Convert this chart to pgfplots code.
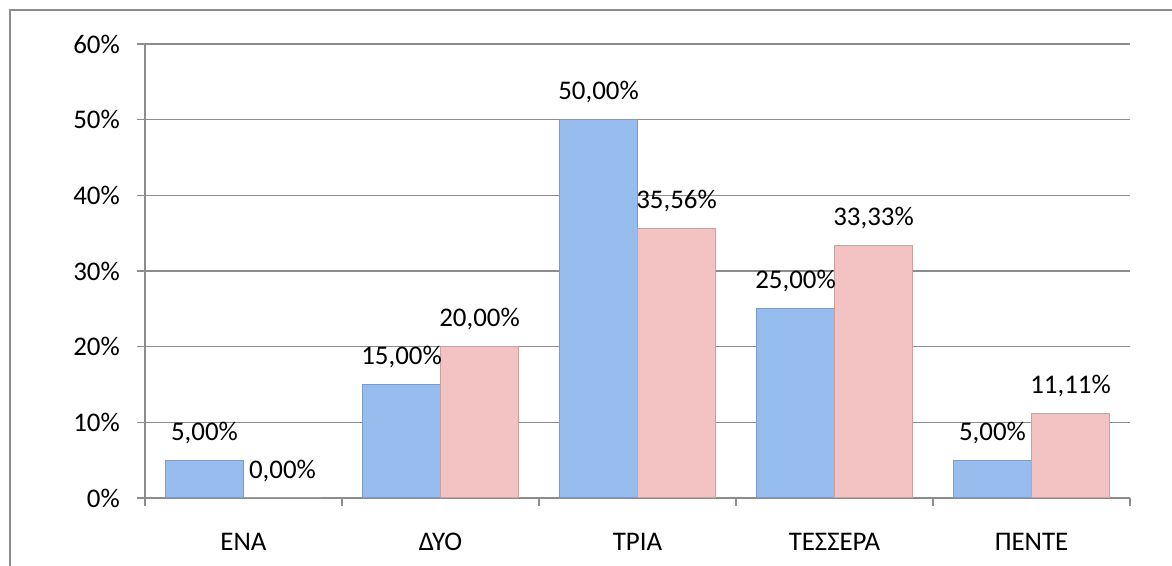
\documentclass[border=0pt]{standalone}
\usepackage{fontspec}
\setmainfont{Carlito}
\usepackage{pgfplots}
\pgfplotsset{compat=1.18}

\definecolor{gridgray}{HTML}{8C8C8C}
\definecolor{barblue}{HTML}{97BCEE}
\definecolor{barblueedge}{HTML}{7A9CCB}
\definecolor{barpink}{HTML}{F3C3C3}
\definecolor{barpinkedge}{HTML}{CDA0A0}

\begin{document}
\begin{tikzpicture}[x=1bp,y=1bp]
  \clip (0,0) rectangle (1172,566);
  \draw[gridgray, line width=2bp] (10,-20) rectangle (1200,556);
  \begin{axis}[
      at={(145bp,68bp)}, anchor=south west,
      scale only axis, width=985bp, height=454bp,
      xmin=-0.5, xmax=4.5,
      ymin=0, ymax=60,
      xtick={0,...,4},
      xticklabels={ΕΝΑ,ΔΥΟ,ΤΡΙΑ,ΤΕΣΣΕΡΑ,ΠΕΝΤΕ},
      minor xtick={-0.5,0.5,...,4.5},
      major x tick style={draw=none},
      ytick={0,10,...,60},
      yticklabel={\pgfmathprintnumber{\tick}\%},
      /pgf/number format/assume math mode=true,
      axis x line*=bottom, axis y line*=left,
      tick align=outside,
      major tick length=8bp, minor tick length=8bp,
      ymajorgrids,
      grid style={gridgray, line width=1.3bp},
      axis line style={gridgray, line width=1.3bp},
      tick style={gridgray, line width=1.3bp},
      tick label style={font=\fontsize{27}{32}\selectfont, text=black},
      yticklabel style={anchor=east, inner sep=0pt, xshift=-17bp},
      xticklabel style={anchor=north, inner sep=0pt, yshift=-27bp},
      ybar=0pt, bar width=78bp,
      nodes near coords={\pgfmathprintnumber[fixed,fixed zerofill,precision=2,use comma]{\pgfplotspointmeta}\%},
      nodes near coords style={font=\fontsize{27}{32}\selectfont, text=black,
        inner sep=0pt, anchor=south, yshift=16bp},
    ]
    \addplot[fill=barblue, draw=barblueedge, line width=1bp] coordinates {
        (0, 5.00) (1, 15.00) (2, 50.00) (3, 25.00) (4, 5.00)
      };
    \addplot[fill=barpink, draw=barpinkedge, line width=1bp] coordinates {
        (0, 0.00) (1, 20.00) (2, 35.56) (3, 33.33) (4, 11.11)
      };
  \end{axis}
\end{tikzpicture}
\end{document}
